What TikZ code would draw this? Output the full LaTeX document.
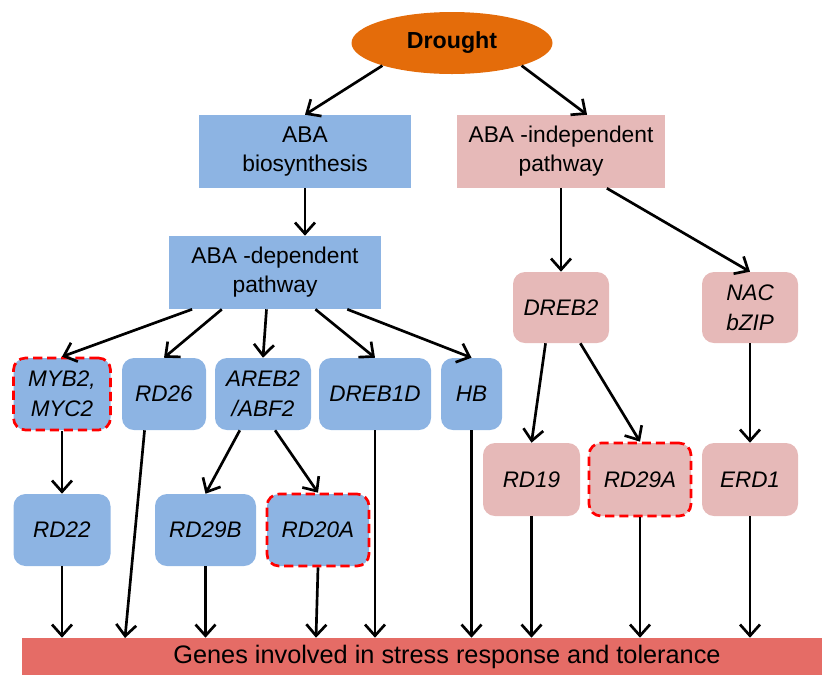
\documentclass[tikz,border=0pt]{standalone}
\usepackage{fontspec}
\setmainfont{Liberation Sans}
\usepackage{tikz}
\usetikzlibrary{positioning,arrows.meta,calc,shapes.geometric}

\definecolor{abablue}{RGB}{141,180,227}
\definecolor{abapink}{RGB}{230,185,184}
\definecolor{droughtorange}{RGB}{228,108,10}
\definecolor{barred}{RGB}{229,108,102}

\begin{document}
\begin{tikzpicture}[
        pw/.style={rectangle, minimum height=1.825cm, inner sep=0pt, align=center, font=\fontsize{16.2}{20.6}\selectfont},
        gn/.style={rectangle, rounded corners=0.3cm, fill=abablue, minimum height=1.8cm, inner sep=0pt, align=center, font=\fontsize{16}{21}\selectfont\itshape},
        pgn/.style={gn, fill=abapink},
        hl/.style={draw=red, line width=1.9pt, dash pattern=on 6.5pt off 3.5pt},
        ar/.style={-{Straight Barb[length=2.8mm,width=5mm]}, line width=1.9pt}
    ]
    \useasboundingbox (0,0) rectangle (20.55,-16.875);

    %% ---- top ----
    \node[ellipse, fill=droughtorange, minimum width=5.025cm, minimum height=1.55cm, inner sep=0pt,
          font=\fontsize{16.5}{20}\selectfont\bfseries] (drought) at (11.3,-1.075) {Drought};
    \node[pw, fill=abablue, minimum width=5.3cm] (abab) at (7.625,-3.7875) {ABA\\biosynthesis};
    \node[pw, fill=abapink, minimum width=5.2cm] (abai) at (14.025,-3.7875) {ABA -independent\\pathway};
    \draw[ar] (drought.198) -- (abab.north);
    \draw[ar] (drought.342) -- ($(abai.north west)!0.625!(abai.north east)$);

    %% ---- ABA-dependent branch ----
    \node[pw, fill=abablue, minimum width=5.3cm] (abad) at (6.875,-6.8125) {ABA -dependent\\pathway};
    \draw[ar] (abab.south) -- (abab.south |- abad.north);
    % level 1
    \node[gn, hl, minimum width=2.425cm] (myb)    at (1.55,-9.85)    {MYB2,\\MYC2};
    \node[gn, minimum width=2.1cm]       (rd26)   at (4.1,-9.85)     {RD26};
    \node[gn, minimum width=2.4cm]       (areb)   at (6.575,-9.85)   {AREB2\\/ABF2};
    \node[gn, minimum width=2.8cm]       (dreb1d) at (9.375,-9.85)   {DREB1D};
    \node[gn, minimum width=1.525cm]     (hb)     at (11.7875,-9.85) {HB};
    \draw[ar] ($(abad.south west)!0.11!(abad.south east)$) -- (myb.north);
    \draw[ar] ($(abad.south west)!0.25!(abad.south east)$) -- (rd26.north);
    \draw[ar] ($(abad.south west)!0.46!(abad.south east)$) -- (areb.north);
    \draw[ar] ($(abad.south west)!0.69!(abad.south east)$) -- (dreb1d.north);
    \draw[ar] ($(abad.south west)!0.84!(abad.south east)$) -- (hb.north);
    % level 2
    \node[gn, minimum width=2.425cm]     (rd22)  at (1.55,-13.25)   {RD22};
    \node[gn, minimum width=2.525cm]     (rd29b) at (5.1375,-13.25) {RD29B};
    \node[gn, hl, minimum width=2.55cm]  (rd20a) at (7.95,-13.25)   {RD20A};
    \draw[ar] (myb.south) -- (rd22.north);
    \draw[ar] ($(areb.south west)!0.26!(areb.south east)$) -- (rd29b.north);
    \draw[ar] ($(areb.south west)!0.625!(areb.south east)$) -- (rd20a.north);

    %% ---- ABA-independent branch ----
    \node[pgn, minimum width=2.4cm, minimum height=1.775cm] (dreb2) at (14.025,-7.6875) {DREB2};
    \node[pgn, minimum width=2.4cm, minimum height=1.775cm] (nac)   at (18.75,-7.6875)  {NAC\\bZIP};
    \draw[ar] (abai.south) -- (dreb2.north);
    \draw[ar] ($(abai.south west)!0.72!(abai.south east)$) -- (nac.north);
    \node[pgn, minimum width=2.425cm, minimum height=1.825cm]    (rd19)  at (13.2875,-11.9875) {RD19};
    \node[pgn, hl, minimum width=2.55cm, minimum height=1.825cm] (rd29a) at (16.0,-11.9875)    {RD29A};
    \node[pgn, minimum width=2.4cm, minimum height=1.825cm]      (erd1)  at (18.75,-11.9875)   {ERD1};
    \draw[ar] ($(dreb2.south west)!0.34!(dreb2.south east)$) -- (rd19.north);
    \draw[ar] ($(dreb2.south west)!0.70!(dreb2.south east)$) -- (rd29a.north);
    \draw[ar] (nac.south) -- (erd1.north);

    %% ---- target genes bar ----
    \node[rectangle, fill=barred, minimum width=20cm, minimum height=0.925cm, inner sep=0pt] (bar) at (10.55,-16.4125) {};
    \node[font=\fontsize{18}{20}\selectfont] (bartxt) at (11.175,-16.43) {Genes involved in stress response and tolerance};
    \coordinate (g26) at (3.125,-15.95);
    \draw[ar] (rd22.south)   -- (rd22.south |- bar.north);
    \draw[ar] ($(rd26.south west)!0.27!(rd26.south east)$) -- (g26);
    \draw[ar] (rd29b.south)  -- (rd29b.south |- bar.north);
    \draw[ar] (rd20a.south)  -- ($(rd20a.south |- bar.north)+(-0.05,0)$);
    \draw[ar] (dreb1d.south) -- (dreb1d.south |- bar.north);
    \draw[ar] (hb.south)     -- (hb.south |- bar.north);
    \draw[ar] (rd19.south)   -- (rd19.south |- bar.north);
    \draw[ar] (rd29a.south)  -- (rd29a.south |- bar.north);
    \draw[ar] (erd1.south)   -- (erd1.south |- bar.north);

\end{tikzpicture}
\end{document}
